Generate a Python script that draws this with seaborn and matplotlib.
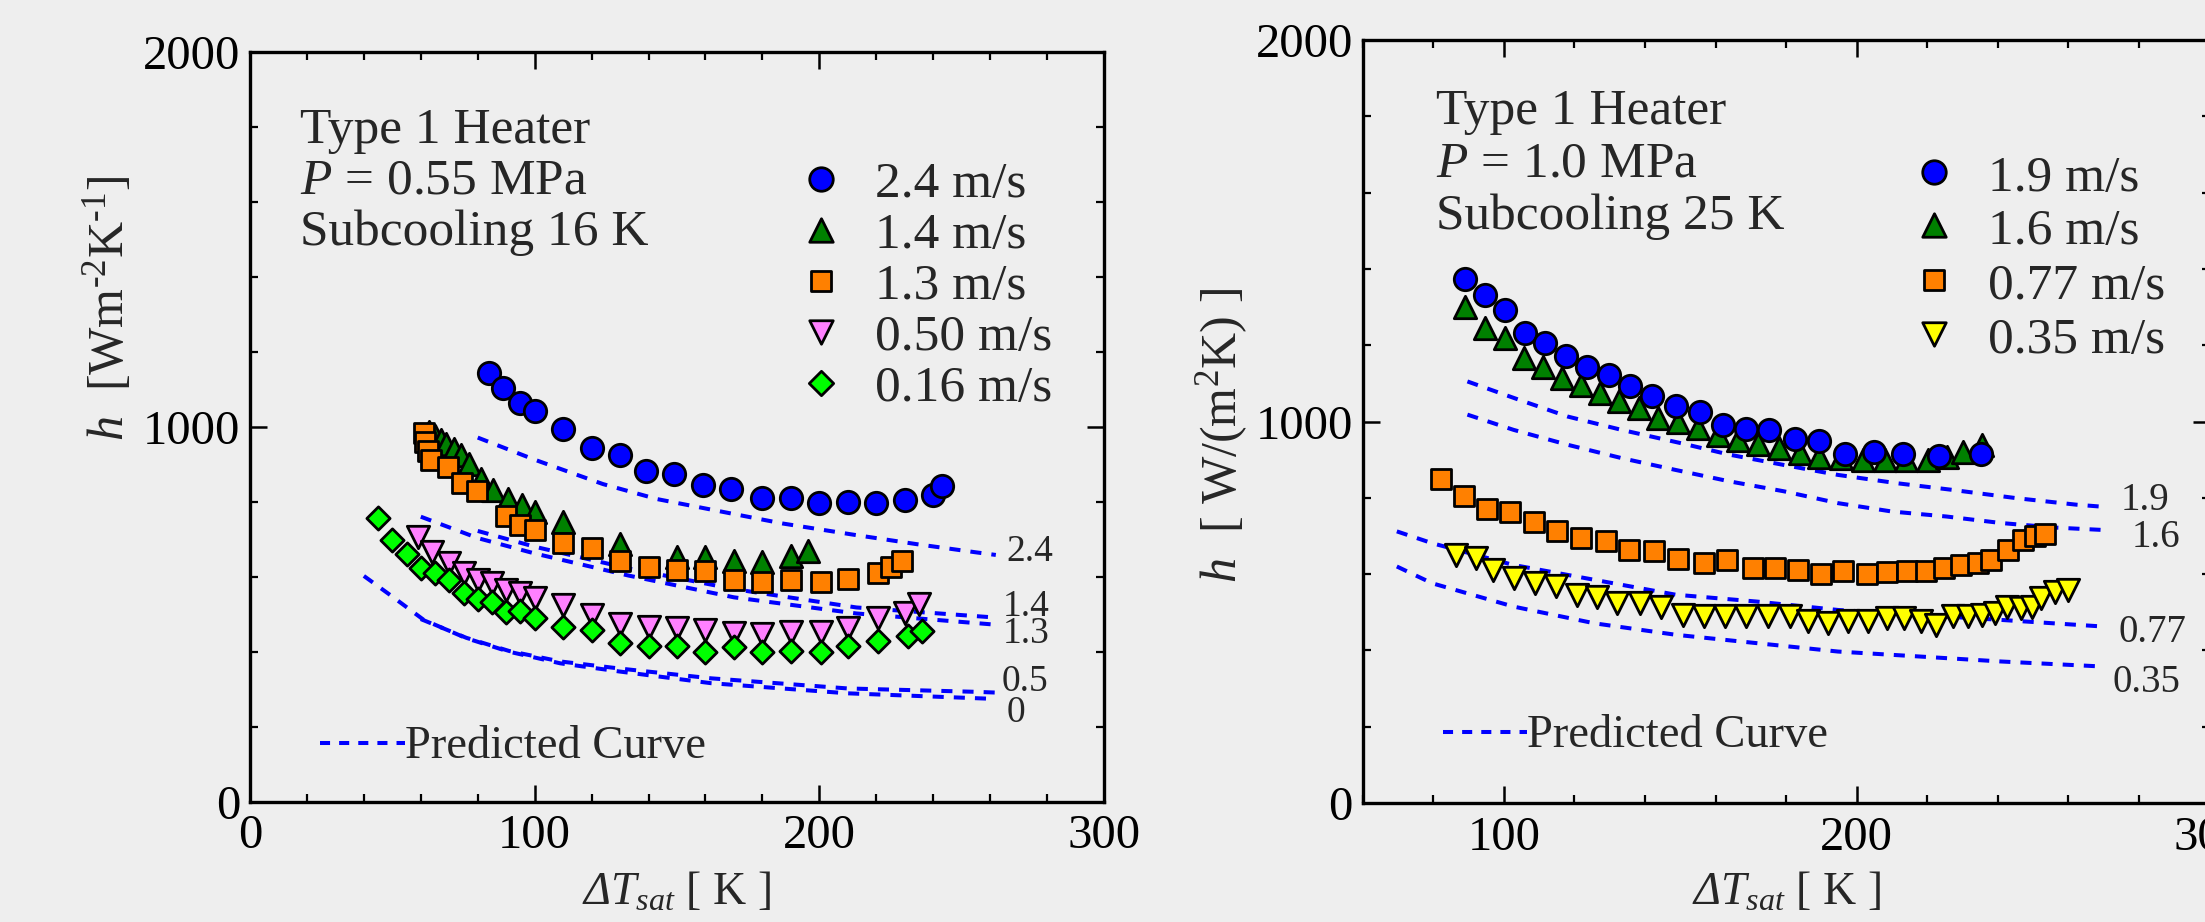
import numpy as np
import pandas as pd
import matplotlib
matplotlib.use("Agg")
import matplotlib.pyplot as plt
import seaborn as sns

# ---------------- data: P = 0.55 MPa, subcooling 16 K ----------------
a_labels = ["2.4 m/s", "1.4 m/s", "1.3 m/s", "0.50 m/s", "0.16 m/s"]

a_v24_x = [84, 89, 95, 100, 110, 120, 130, 139, 149, 159, 169, 180, 190, 200, 210, 220, 230, 240, 243]
a_v24_y = [1143, 1104, 1063, 1041, 994, 944, 924, 882, 874, 844, 835, 810, 810, 797, 800, 797, 805, 819, 841]

a_v14_x = [63, 65, 67, 69, 71.5, 74, 77, 81, 85.5, 90.7, 95.4, 100, 110, 130, 150, 160, 170, 180, 190, 196]
a_v14_y = [985, 975, 965, 955, 940, 925, 900, 860, 830, 807, 791, 773, 745, 687, 652, 652, 643, 638, 656, 669]

a_v13_x = [61, 61.5, 62.5, 63.5, 69.5, 74.5, 79.7, 90, 95, 100, 110, 120, 130, 140, 150, 160, 170, 180, 190,
           200.5, 210, 220.5, 225, 229]
a_v13_y = [984, 960, 935, 912, 893, 849, 829, 762, 738, 724, 690, 677, 642, 627, 619, 614, 590, 587, 592,
           587, 595, 611, 627, 642]

a_v05_x = [59, 64, 70, 75, 80, 85, 90, 95, 100, 110, 120, 130, 140, 150, 160, 170, 180, 190, 200.5, 210,
           220.5, 230, 235]
a_v05_y = [705, 666, 637, 611, 590, 584, 564, 556, 544, 525, 498, 475, 465, 462, 459, 450, 446, 453, 453, 462,
           489, 504, 528]

a_v016_x = [45, 50, 55, 60, 65, 70, 75, 80, 85, 90, 95, 100, 110, 120, 130, 140, 150, 160, 170, 180, 190,
            200.5, 210, 220.5, 231, 236]
a_v016_y = [757, 697, 661, 622, 611, 590, 556, 540, 533, 506, 509, 490, 465, 459, 423, 415, 415, 399, 412, 399,
            403, 399, 415, 428, 443, 454]

# predicted curves
a_p24_x = [80, 100, 124, 143, 164, 187, 212, 234, 255, 262]
a_p24_y = [971, 912, 847, 807, 776, 742, 712, 687, 665, 658]
a_p14_x = [80, 100, 133, 170, 213, 262]
a_p14_y = [722, 680, 622, 567, 518, 491]
a_p13_x = [60, 80, 100, 133, 170, 213, 262]
a_p13_y = [760, 703, 662, 603, 545, 502, 472]
a_p05_x = [60, 76, 91, 109, 130, 162, 210, 255, 262]
a_p05_y = [487, 437, 402, 374, 355, 329, 302, 293, 291]
a_p0_x = [40, 50, 61, 76, 91, 109, 130, 162, 210, 255, 262]
a_p0_y = [602, 547, 485, 436, 400, 369, 347, 316, 289, 276, 274]
a_curve_tags = ["2.4", "1.4", "1.3", "0.5", "0"]
a_tag_x = [265.8, 264.6, 264.6, 264.1, 265.8]
a_tag_y = [667, 520, 449, 320, 237]

# ---------------- data: P = 1.0 MPa, subcooling 25 K ----------------
b_labels = ["1.9 m/s", "1.6 m/s", "0.77 m/s", "0.35 m/s"]

b_v19_x = [88.9, 94.7, 100.4, 106.1, 111.6, 117.7, 123.7, 129.9, 135.9, 142.1, 148.7, 155.6, 162.2, 168.7,
           175.1, 182.5, 189.4, 196.6, 204.8, 213.2, 223.2, 235.1]
b_v19_y = [1373, 1332, 1293, 1233, 1205, 1172, 1144, 1122, 1093, 1066, 1041, 1024, 991, 980, 978, 954, 948,
           915, 921, 915, 910, 914]

b_v16_x = [88.9, 94.7, 100.4, 105.8, 111.2, 116.5, 121.9, 127.3, 132.6, 138.3, 143.8, 149.5, 154.9, 160.7,
           166.4, 172.1, 177.9, 183.8, 189.4, 195.6, 201.7, 207.9, 214, 220.2, 225.6, 230.2, 235.5]
b_v16_y = [1301, 1245, 1218, 1166, 1144, 1114, 1096, 1074, 1055, 1035, 1009, 1000, 983, 965, 952, 941, 930,
           917, 908, 904, 900, 898, 898, 900, 908, 921, 939]

b_v077_x = [82.3, 88.8, 95.2, 101.9, 108.6, 115.2, 121.9, 129, 135.6, 142.5, 149.5, 156.6, 163.2, 170.5,
            176.8, 183.4, 189.9, 196.2, 202.9, 208.6, 214.3, 219.6, 224.8, 229.5, 234.3, 238.1, 242.9, 247,
            250.5, 253.3]
b_v077_y = [848, 805, 771, 763, 736, 714, 694, 686, 663, 660, 640, 629, 637, 617, 617, 612, 601, 609, 601,
            606, 609, 609, 617, 625, 628, 637, 663, 689, 699, 705]

b_v035_x = [86.6, 92, 97, 103, 108.9, 114.7, 120.8, 126.5, 132.2, 138.5, 144.6, 150.7, 156.7, 162.6, 168.7,
            174.8, 181, 186.3, 192, 197.5, 203.2, 208.6, 213.5, 218.1, 222.4, 227.3, 231.6, 235.4, 239.3,
            242.6, 246.6, 249.7, 252.3, 256.1, 260]
b_v035_y = [651, 642, 611, 589, 576, 568, 546, 541, 524, 524, 515, 493, 489, 489, 489, 489, 489, 476, 472,
            476, 476, 485, 485, 476, 467, 489, 489, 493, 498, 515, 511, 515, 537, 554, 559]

b_p19_x = [89.7, 104.3, 118.1, 133.4, 150.3, 164.0, 179.4, 194.7, 211.6, 226.9, 245.3, 262.2, 269.1]
b_p19_y = [1105, 1057, 1013, 978, 943, 913, 886, 860, 838, 821, 799, 782, 777]
b_p16_x = [89.7, 102.8, 118.1, 133.4, 148.7, 164.0, 179.4, 194.7, 210.0, 225.4, 240.8, 256.1, 269.1]
b_p16_y = [1018, 978, 939, 904, 873, 843, 817, 786, 764, 751, 734, 722, 716]
b_p077_x = [69.7, 79.7, 102.7, 125.7, 148.7, 171.7, 194.7, 217.8, 240.8, 269.1]
b_p077_y = [712, 681, 624, 585, 546, 528, 506, 493, 480, 463]
b_p035_x = [69.7, 79.7, 102.7, 125.7, 148.7, 171.7, 194.7, 217.8, 240.8, 269.1]
b_p035_y = [620, 576, 515, 471, 441, 419, 397, 384, 371, 358]
b_curve_tags = ["1.9", "1.6", "0.77", "0.35"]
b_tag_x = [274.7, 277.9, 274.2, 272.5]
b_tag_y = [794, 697, 446, 315]

# ---------------- styling ----------------
BG = "#eeeeee"
sns.set_style("ticks")
plt.rcParams.update({
    "font.family": ["Liberation Serif", "DejaVu Serif"],
    "mathtext.fontset": "custom",
    "mathtext.rm": "Liberation Serif",
    "mathtext.it": "Liberation Serif:italic",
    "mathtext.bf": "Liberation Serif:bold",
    # slanted Greek capital for the temperature-difference symbol
    "mathtext.sf": "Liberation Serif:italic",
    "figure.facecolor": BG,
    "axes.facecolor": BG,
    "axes.edgecolor": "black",
    "axes.linewidth": 2.4,
    "xtick.direction": "in",
    "ytick.direction": "in",
    "xtick.top": True,
    "ytick.right": True,
    "xtick.major.size": 12,
    "ytick.major.size": 12,
    "xtick.minor.size": 6,
    "ytick.minor.size": 6,
    "xtick.major.width": 1.8,
    "ytick.major.width": 1.8,
    "xtick.minor.width": 1.6,
    "ytick.minor.width": 1.6,
    "xtick.color": "black",
    "ytick.color": "black",
    "xtick.labelsize": 35,
    "ytick.labelsize": 35,
    "xtick.major.pad": 9,
    "ytick.major.pad": 7,
})

BLUE = "#0000ff"
STY = {
    "c": dict(marker="o", color="#0000ff", s=260),
    "t": dict(marker="^", color="#008000", s=260),
    "q": dict(marker="s", color="#ff8000", s=195),
    "p": dict(marker="v", color="#ff80ff", s=260),
    "d": dict(marker="D", color="#00ff00", s=140),
    "y": dict(marker="v", color="#ffff00", s=260),
}
DASH = (0, (2.75, 2.5))
CURVE_LW = 2.9

fig = plt.figure(figsize=(22.05, 9.22), dpi=100)
ax1 = fig.add_axes([250 / 2205, 1 - 801.7 / 922, 854 / 2205, 750 / 922])
ax2 = fig.add_axes([1362.6 / 2205, 1 - 803 / 922, 847 / 2205, 763 / 922])


def points(ax, xs, ys, key, z):
    st = STY[key]
    sns.scatterplot(x=xs, y=ys, ax=ax, marker=st["marker"], color=st["color"], s=st["s"],
                    edgecolor="black", linewidth=2.0, zorder=z, legend=False)


def curve(ax, xs, ys):
    sns.lineplot(x=xs, y=ys, ax=ax, color=BLUE, lw=CURVE_LW, linestyle=DASH, sort=False,
                 estimator=None, zorder=2, legend=False)


def legend_block(ax, keys, labels, mx, tx, baselines, dy):
    for k, lab, yb in zip(keys, labels, baselines):
        st = STY[k]
        ax.scatter([mx], [yb + dy], transform=ax.transAxes, marker=st["marker"], s=st["s"] * 1.1,
                   color=st["color"], edgecolor="black", linewidth=2.0, clip_on=False, zorder=6)
        ax.text(tx, yb, lab, transform=ax.transAxes, fontsize=37, va="baseline", ha="left")


def predicted_key(ax, x0, x1, y, ty):
    ax.plot([x0, x1], [y, y], transform=ax.transAxes, color=BLUE, lw=CURVE_LW, linestyle=(0, (2.5, 2.25)))
    ax.text(x1, ty, "Predicted Curve", transform=ax.transAxes, fontsize=33.5, va="baseline", ha="left")


def frame(ax, xlim, xmajor, ylabel, ylab_pos, xlab_y):
    ax.set_xlim(*xlim)
    ax.set_ylim(0, 2000)
    ax.set_xticks(xmajor)
    ax.set_xticks(np.arange(xlim[0], xlim[1] + 1, 20), minor=True)
    ax.set_yticks([0, 1000, 2000])
    ax.set_yticks(np.arange(0, 2001, 200), minor=True)
    ax.tick_params(which="both", top=True, right=True)
    for sp in ax.spines.values():
        sp.set_visible(True)
        sp.set_linewidth(2.4)
    ax.set_xlabel(r"$\mathsf{\Delta}T_{sat}$ [ K ]", fontsize=33)
    ax.xaxis.set_label_coords(0.5, xlab_y)
    ax.set_ylabel(ylabel, fontsize=36)
    ax.yaxis.label.set_va("center")
    ax.yaxis.set_label_coords(*ylab_pos)


# ---------------- left panel ----------------
for xs, ys in [(a_p24_x, a_p24_y), (a_p14_x, a_p14_y), (a_p13_x, a_p13_y), (a_p05_x, a_p05_y), (a_p0_x, a_p0_y)]:
    curve(ax1, xs, ys)
points(ax1, a_v24_x, a_v24_y, "c", 5)
points(ax1, a_v14_x, a_v14_y, "t", 3)
points(ax1, a_v13_x, a_v13_y, "q", 4)
points(ax1, a_v05_x, a_v05_y, "p", 3)
points(ax1, a_v016_x, a_v016_y, "d", 4)
for t, x, y in zip(a_curve_tags, a_tag_x, a_tag_y):
    ax1.text(x, y, t, fontsize=27, ha="left", va="center")

for txt, yb in zip(["Type 1 Heater", r"$P$ = 0.55 MPa", "Subcooling 16 K"], [0.878, 0.8116, 0.7427]):
    ax1.text(0.0585, yb, txt, transform=ax1.transAxes, fontsize=37, va="baseline", ha="left")
legend_block(ax1, ["c", "t", "q", "p", "d"], a_labels, 0.6686, 0.7318,
             [0.8067, 0.7379, 0.6699, 0.6023, 0.5343], 0.024)
predicted_key(ax1, 0.082, 0.1815, 0.0787, 0.0583)
frame(ax1, (0, 300), [0, 100, 200, 300], r"$h$  [Wm$^{\text{-}2}$K$^{\text{-}1}$]", (-0.166, 0.658), -0.093)

# ---------------- right panel ----------------
for xs, ys in [(b_p19_x, b_p19_y), (b_p16_x, b_p16_y), (b_p077_x, b_p077_y), (b_p035_x, b_p035_y)]:
    curve(ax2, xs, ys)
points(ax2, b_v16_x, b_v16_y, "t", 3)
points(ax2, b_v19_x, b_v19_y, "c", 4)
points(ax2, b_v077_x, b_v077_y, "q", 4)
points(ax2, b_v035_x, b_v035_y, "y", 4)
for t, x, y in zip(b_curve_tags, b_tag_x, b_tag_y):
    ax2.text(x, y, t, fontsize=28, ha="left", va="center")

for txt, yb in zip(["Type 1 Heater", r"$P$ = 1.0 MPa", "Subcooling 25 K"], [0.8905, 0.8211, 0.7518]):
    ax2.text(0.0867, yb, txt, transform=ax2.transAxes, fontsize=37, va="baseline", ha="left")
legend_block(ax2, ["c", "t", "q", "y"], b_labels, 0.6746, 0.7380,
             [0.8021, 0.7326, 0.6605, 0.5898], 0.025)
predicted_key(ax2, 0.0949, 0.1941, 0.093, 0.0734)
frame(ax2, (60, 300), [100, 200, 300], r"$h$  [ W/(m$^2$K) ]", (-0.166, 0.481), -0.09)

fig.savefig("out.png", dpi=100, facecolor=BG)
